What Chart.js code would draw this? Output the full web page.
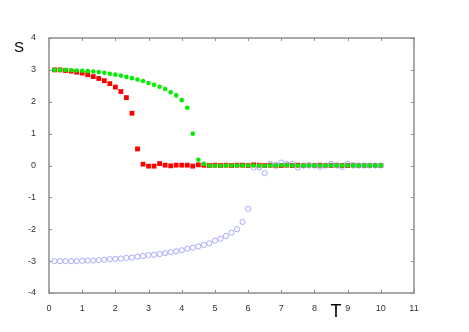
<!DOCTYPE html>
<html>
<head>
<meta charset="utf-8">
<script src="https://cdn.jsdelivr.net/npm/chart.js@4/dist/chart.umd.min.js"></script>
<style>
html,body{margin:0;padding:0;background:#fff;}
#wrap{width:469px;height:332px;}
</style>
</head>
<body>
<div id="wrap"><canvas id="c" width="469" height="332"></canvas></div>
<script>
const T = [0.167,0.333,0.5,0.667,0.833,1,1.167,1.333,1.5,1.667,1.833,2,2.167,2.333,2.5,2.667,2.833,3,3.167,3.333,3.5,3.667,3.833,4,4.167,4.333,4.5,4.667,4.833,5,5.167,5.333,5.5,5.667,5.833,6,6.167,6.333,6.5,6.667,6.833,7,7.167,7.333,7.5,7.667,7.833,8,8.167,8.333,8.5,8.667,8.833,9,9.167,9.333,9.5,9.667,9.833,10];

const redS = [3.0,3.0,2.98,2.96,2.93,2.90,2.85,2.79,2.73,2.66,2.57,2.46,2.32,2.13,1.64,0.52,0.04,-0.02,-0.02,0.06,0.01,-0.01,0.01,0.01,0.01,-0.02,0.02,0.01,
  0.0,0.01,0.0,0.01,0.0,0.01,0.01,0.0,0.02,0.01,0.0,0.01,-0.01,0.0,0.01,0.0,0.01,0.0,0.01,0.0,0.01,0.0,0.0,0.01,0.0,0.0,0.01,0.0,0.0,0.0,0.0,0.0];

const greenS = [3.0,3.0,3.0,2.99,2.98,2.97,2.96,2.95,2.93,2.91,2.88,2.85,2.82,2.78,2.74,2.70,2.65,2.59,2.53,2.47,2.40,2.30,2.20,2.05,1.81,1.00,0.18,0.05,-0.01,-0.01,
  -0.01,0.0,0.0,0.0,0.0,0.0,0.0,0.0,-0.01,0.0,0.0,0.01,0.01,0.0,0.0,0.0,0.0,0.0,0.0,0.0,0.0,0.0,0.0,0.0,0.0,0.0,0.0,0.0,0.0,0.0];

const blueS = [-3.0,-3.0,-3.0,-3.0,-3.0,-2.99,-2.98,-2.98,-2.97,-2.96,-2.94,-2.93,-2.92,-2.90,-2.89,-2.86,-2.84,-2.81,-2.80,-2.78,-2.75,-2.72,-2.69,-2.66,-2.61,-2.58,-2.54,-2.49,-2.44,-2.36,-2.30,-2.21,-2.11,-2.0,-1.77,-1.36,
  -0.06,-0.06,-0.24,0.05,0.02,0.09,0.05,0.05,-0.06,0.0,0.0,0.0,-0.04,0.0,0.05,0.0,-0.04,0.05,0.0,0.0,0.0,0.0,0.0,0.0];

const xTicks = [0,1,2,3,4,5,6,7,8,9,10,11];
const yTicks = [-4,-3,-2,-1,0,1,2,3,4];

function pts(ys){ return T.map((t,i)=>({x:t,y:ys[i]})); }

const framePlugin = {
  id:'frame',
  beforeDatasetsDraw(chart){
    const {ctx, chartArea:a, scales} = chart;
    ctx.save();
    ctx.strokeStyle = '#8c8c8c';
    ctx.lineWidth = 1.5;
    ctx.strokeRect(a.left, a.top, a.right-a.left, a.bottom-a.top);
    ctx.lineWidth = 1;
    ctx.beginPath();
    const L = 3;
    xTicks.forEach(v=>{
      const px = Math.round(scales.x.getPixelForValue(v))+0.5;
      ctx.moveTo(px, a.bottom); ctx.lineTo(px, a.bottom-L);
      ctx.moveTo(px, a.top); ctx.lineTo(px, a.top+L);
    });
    yTicks.forEach(v=>{
      const py = Math.round(scales.y.getPixelForValue(v))+0.5;
      ctx.moveTo(a.left, py); ctx.lineTo(a.left+L, py);
      ctx.moveTo(a.right, py); ctx.lineTo(a.right-L, py);
    });
    ctx.stroke();
    ctx.restore();
  },
  afterDraw(chart){
    const ctx = chart.ctx;
    ctx.save();
    ctx.fillStyle = '#000';
    ctx.textAlign = 'center';
    ctx.textBaseline = 'middle';
    ctx.font = '15px "Liberation Sans", Arial, sans-serif';
    ctx.fillText('S', 19, 48);
    ctx.font = '18px "Liberation Sans", Arial, sans-serif';
    ctx.fillText('T', 336, 312);
    ctx.restore();
  }
};

new Chart(document.getElementById('c'), {
  type:'scatter',
  data:{
    datasets:[
      {label:'red', data:pts(redS), pointStyle:'rect', pointRadius:3.4, backgroundColor:'#ff0000', borderColor:'#ff0000', borderWidth:0, order:3},
      {label:'blue', data:pts(blueS), pointStyle:'circle', pointRadius:2.6, backgroundColor:'rgba(0,0,0,0)', borderColor:'#a8a8ff', borderWidth:1, order:2},
      {label:'green', data:pts(greenS), pointStyle:'circle', pointRadius:2.3, backgroundColor:'#00ee00', borderColor:'#00ee00', borderWidth:0, order:1}
    ]
  },
  options:{
    responsive:false,
    animation:false,
    events:[],
    layout:{padding:{left:0, right:55, top:38, bottom:0}},
    plugins:{legend:{display:false}, tooltip:{enabled:false}},
    scales:{
      x:{
        type:'linear', min:0, max:11,
        afterBuildTicks(s){ s.ticks = xTicks.map(v=>({value:v})); },
        afterFit(s){ s.height = 39; },
        grid:{display:false},
        border:{display:false},
        ticks:{font:{size:9, family:'"Liberation Sans", Arial, sans-serif'}, color:'#333', padding:2, maxRotation:0}
      },
      y:{
        type:'linear', min:-4, max:4,
        afterBuildTicks(s){ s.ticks = yTicks.map(v=>({value:v})); },
        afterFit(s){ s.width = 49; },
        grid:{display:false},
        border:{display:false},
        ticks:{font:{size:9, family:'"Liberation Sans", Arial, sans-serif'}, color:'#333', padding:5}
      }
    }
  },
  plugins:[framePlugin]
});
</script>
</body>
</html>
